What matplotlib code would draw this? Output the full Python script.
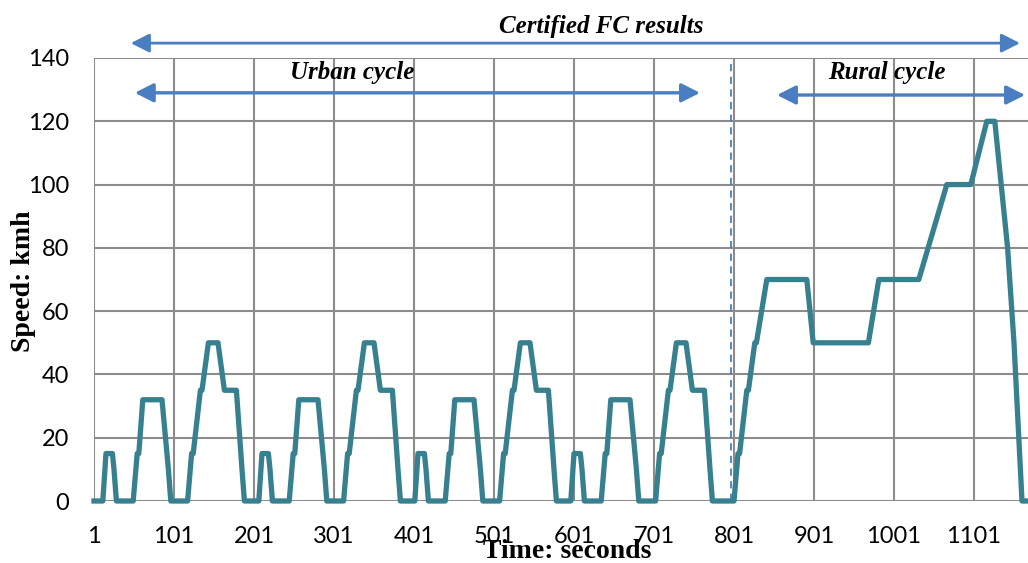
import matplotlib.pyplot as plt
import numpy as np
from matplotlib.patches import FancyArrowPatch

# ECE-15 urban cycle breakpoints (seconds into the cycle, km/h)
urban_t = [0, 11, 15, 23, 25, 28, 49, 54, 56, 61, 85, 93, 96, 117, 122, 124,
           133, 135, 143, 155, 163, 176, 178, 185, 188, 195]
urban_v = [0, 0, 15, 15, 10, 0, 0, 15, 15, 32, 32, 10, 0, 0, 15, 15,
           35, 35, 50, 50, 35, 35, 35, 10, 0, 0]
urban_starts = [0, 195, 390, 585]

# EUDC rural cycle breakpoints
rural_t = [0, 20, 25, 27, 36, 38, 46, 48, 61, 111, 119, 188, 201, 251,
           286, 316, 336, 346, 362, 370, 380, 400]
rural_v = [0, 0, 15, 15, 35, 35, 50, 50, 70, 70, 50, 50, 70, 70,
           100, 100, 120, 120, 80, 50, 0, 0]
rural_start = 780

x_ticks = [1, 101, 201, 301, 401, 501, 601, 701, 801, 901, 1001, 1101]
y_ticks = [0, 20, 40, 60, 80, 100, 120, 140]
split_time = 797

LINE = "#37808F"
BLUE = "#4A7EC2"
GRID = "#8C8C8C"

times = []
speeds = []
for start in urban_starts:
    times.extend(start + t + 1 for t in urban_t)
    speeds.extend(urban_v)
times.extend(rural_start + t + 1 for t in rural_t)
speeds.extend(rural_v)

fig = plt.figure(figsize=(10.28, 5.63), dpi=100)
ax = fig.add_axes([94 / 1028, 62 / 563, 1 - 94 / 1028, 443 / 563])

ax.set_xlim(1, 1 + (1028 - 94) / 0.8)
ax.set_ylim(0, 140)
ax.set_xticks(x_ticks)
ax.set_yticks(y_ticks)
ax.grid(True, color=GRID, linewidth=1.5)
ax.set_axisbelow(True)
for spine in ax.spines.values():
    spine.set_visible(False)
ax.tick_params(length=0, labelsize=17)
ax.tick_params(axis="x", pad=18)
ax.tick_params(axis="y", pad=18)
for label in ax.get_xticklabels() + ax.get_yticklabels():
    label.set_fontfamily("Lato")

ax.axvline(split_time, color=BLUE, linewidth=1.3, dashes=(4, 3), zorder=2)
ax.plot(times, speeds, color=LINE, linewidth=3.8, solid_joinstyle="round",
        clip_on=False, zorder=3)


def double_arrow(x0, x1, y, lw):
    arrow = FancyArrowPatch((x0, y), (x1, y), arrowstyle="<|-|>,head_length=0.75,head_width=0.38",
                            mutation_scale=15, color=BLUE, linewidth=lw,
                            shrinkA=0, shrinkB=0, clip_on=False, transform=ax.transData)
    ax.add_patch(arrow)


double_arrow(47, 1158.5, 144.7, 2.0)
double_arrow(52, 758.5, 129.0, 2.4)
double_arrow(854.75, 1164.75, 128.3, 2.4)

title_font = dict(family="Liberation Serif", weight="bold", style="italic", fontsize=18)
fig.text(601 / 1028, 1 - 27 / 563, "Certified FC results", ha="center", va="center", **title_font)
fig.text(352 / 1028, 1 - 72 / 563, "Urban cycle", ha="center", va="center", **title_font)
fig.text(887 / 1028, 1 - 72 / 563, "Rural cycle", ha="center", va="center", **title_font)

label_font = dict(family="Liberation Serif", weight="bold", fontsize=20)
fig.text(567 / 1028, 1 - 551 / 563, "Time: seconds", ha="center", va="center", **label_font)
fig.text(24 / 1028, 1 - 281 / 563, "Speed: kmh", ha="center", va="center", rotation=90, **label_font)

fig.savefig("out.png", dpi=100)
